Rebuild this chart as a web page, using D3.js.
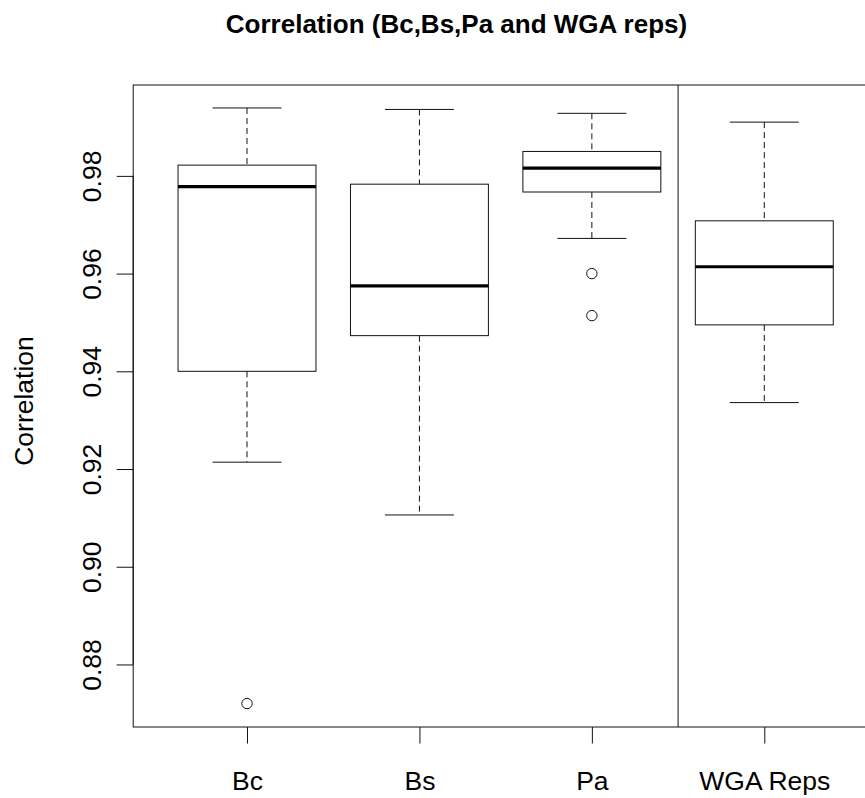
<!DOCTYPE html>
<html>
<head>
<meta charset="utf-8">
<script src="https://cdn.jsdelivr.net/npm/d3@7"></script>
<style>
html,body{margin:0;padding:0;background:#fff;}
svg{display:block;}
text{font-family:"Liberation Sans",Arial,Helvetica,sans-serif;fill:#000;}
</style>
</head>
<body>
<svg id="chart" width="865" height="798"></svg>
<script>
const categories = ["Bc", "Bs", "Pa", "WGA Reps"];
const whiskerLow = [0.9214, 0.9106, 0.9672, 0.9336];
const q1 = [0.9400, 0.9473, 0.9767, 0.9495];
const median = [0.9778, 0.9575, 0.9816, 0.9614];
const q3 = [0.9822, 0.9783, 0.9850, 0.9708];
const whiskerHigh = [0.9939, 0.9936, 0.9928, 0.9910];
const outliers = [[0.8720], [], [0.9600, 0.9514], []];
const yTicks = [0.88, 0.90, 0.92, 0.94, 0.96, 0.98];
const dividerAt = 3.5;

const svg = d3.select("#chart");
const x = d3.scaleLinear().domain([0.34, 4.66]).range([133.2, 878.1]);
const y = d3.scaleLinear().domain([0.8672, 0.9986]).range([727, 85]);

const boxW = 0.8, capW = 0.4;
const ink = "#111";

// title
svg.append("text").attr("x", 456.5).attr("y", 33)
  .attr("text-anchor", "middle").attr("font-size", "26px").attr("font-weight", "bold")
  .text("Correlation (Bc,Bs,Pa and WGA reps)");

// y label
svg.append("text").attr("transform", "translate(33,401) rotate(-90)")
  .attr("text-anchor", "middle").attr("font-size", "26.5px").text("Correlation");

const g = svg.append("g");
categories.forEach((c, i) => {
  const p = i + 1;
  // whiskers (dashed)
  g.append("line").attr("x1", x(p)).attr("x2", x(p)).attr("y1", y(whiskerHigh[i])).attr("y2", y(q3[i]))
    .attr("stroke", ink).attr("stroke-width", 1).attr("stroke-dasharray", "6,4");
  g.append("line").attr("x1", x(p)).attr("x2", x(p)).attr("y1", y(q1[i])).attr("y2", y(whiskerLow[i]))
    .attr("stroke", ink).attr("stroke-width", 1).attr("stroke-dasharray", "6,4");
  // caps
  [whiskerHigh[i], whiskerLow[i]].forEach(v => {
    g.append("line").attr("x1", x(p - capW / 2)).attr("x2", x(p + capW / 2)).attr("y1", y(v)).attr("y2", y(v))
      .attr("stroke", ink).attr("stroke-width", 1);
  });
  // box
  g.append("rect").attr("x", x(p - boxW / 2)).attr("width", x(p + boxW / 2) - x(p - boxW / 2))
    .attr("y", y(q3[i])).attr("height", y(q1[i]) - y(q3[i]))
    .attr("fill", "none").attr("stroke", ink).attr("stroke-width", 1);
  // median
  g.append("line").attr("x1", x(p - boxW / 2)).attr("x2", x(p + boxW / 2)).attr("y1", y(median[i])).attr("y2", y(median[i]))
    .attr("stroke", "#000").attr("stroke-width", 3.2);
  // outliers
  outliers[i].forEach(v => {
    g.append("circle").attr("cx", x(p)).attr("cy", y(v)).attr("r", 5.2)
      .attr("fill", "none").attr("stroke", ink).attr("stroke-width", 1);
  });
});

// divider
svg.append("line").attr("x1", x(dividerAt)).attr("x2", x(dividerAt)).attr("y1", y.range()[1]).attr("y2", y.range()[0])
  .attr("stroke", ink).attr("stroke-width", 1);

// plot frame
svg.append("rect").attr("x", x.range()[0]).attr("y", y.range()[1])
  .attr("width", x.range()[1] - x.range()[0]).attr("height", y.range()[0] - y.range()[1])
  .attr("fill", "none").attr("stroke", ink).attr("stroke-width", 1);

// y axis
const yAxis = d3.axisLeft(y).tickValues(yTicks).tickFormat(d3.format(".2f")).tickSize(16.5).tickPadding(0);
const ya = svg.append("g").attr("transform", `translate(${x.range()[0]},0)`).call(yAxis);
ya.select(".domain").attr("d", `M0,${y(yTicks[0])}V${y(yTicks[yTicks.length - 1])}`).attr("stroke", ink);
ya.selectAll(".tick line").attr("stroke", ink);
ya.selectAll(".tick text")
  .attr("font-size", "26.5px").attr("font-family", "Liberation Sans, Arial, sans-serif").attr("fill", "#000")
  .attr("x", null).attr("dy", null)
  .attr("text-anchor", "middle")
  .attr("transform", "translate(-32,0) rotate(-90)");

// x axis
const xs = d3.scaleLinear().domain(x.domain()).range(x.range());
const xAxis = d3.axisBottom(xs).tickValues([1, 2, 3, 4]).tickFormat(d => categories[d - 1]).tickSize(16.5).tickPadding(0);
const xa = svg.append("g").attr("transform", `translate(0,${y.range()[0]})`).call(xAxis);
xa.select(".domain").remove();
xa.selectAll(".tick line").attr("stroke", ink);
xa.selectAll(".tick text")
  .attr("font-size", "26.5px").attr("font-family", "Liberation Sans, Arial, sans-serif").attr("fill", "#000")
  .attr("y", 63).attr("dy", null);
</script>
</body>
</html>
